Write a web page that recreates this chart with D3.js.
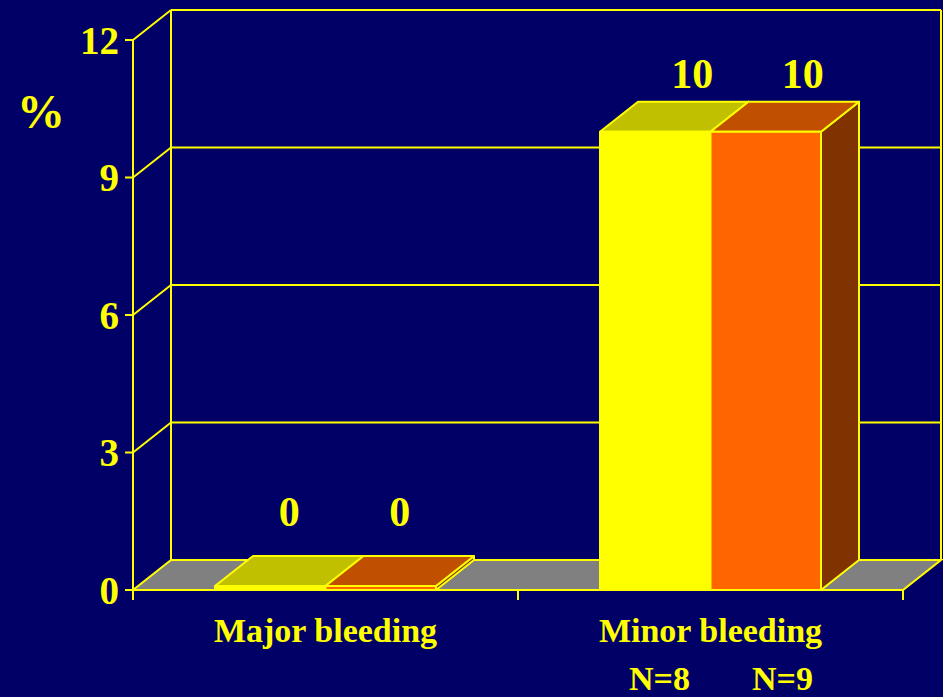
<!DOCTYPE html>
<html>
<head>
<meta charset="utf-8">
<script src="https://cdn.jsdelivr.net/npm/d3@7"></script>
<style>
  html, body { margin: 0; padding: 0; background: #000066; }
  svg { display: block; }
  text { font-family: "Liberation Serif", "Times New Roman", serif; font-weight: bold; fill: #ffff00; }
</style>
</head>
<body>
<svg id="chart" width="943" height="697"></svg>
<script>
// data
const categories = ["Major bleeding", "Minor bleeding"];
const series = ["A", "B"];
const values = [[0, 0], [10, 10]];
const yTicks = [0, 3, 6, 9, 12];
const groupNotes = ["N=8", "N=9"];

const svg = d3.select("#chart"),
    margin = { top: 40, right: 40, bottom: 107, left: 133 },
    width = +svg.attr("width") - margin.left - margin.right,
    height = +svg.attr("height") - margin.top - margin.bottom;

const depth = { x: 38, y: -30 };
const yellow = "#ffff00";
const lw = 2;
const colors = {
    A: { front: "#ffff00", top: "#c0c000", side: "#808000" },
    B: { front: "#ff6600", top: "#c05000", side: "#803300" }
};

const x0 = d3.scaleBand().domain(categories).range([margin.left, margin.left + width]).padding(0);
const x1 = d3.scaleBand().domain(series).range([0, x0.bandwidth()]).paddingInner(0).paddingOuter(0.742);
const y = d3.scaleLinear().domain([0, 12]).range([margin.top + height, margin.top]);

const base = y(0);
const left = x0.range()[0], right = x0.range()[1];

// back wall
const wall = svg.append("g").attr("fill", "none").attr("stroke", yellow).attr("stroke-width", lw);
wall.append("line").attr("x1", left + depth.x).attr("x2", left + depth.x)
    .attr("y1", y(12) + depth.y).attr("y2", base + depth.y);
wall.append("line").attr("x1", right + depth.x).attr("x2", right + depth.x)
    .attr("y1", y(12) + depth.y).attr("y2", base + depth.y);
wall.selectAll(".grid").data(yTicks.filter(d => d > 0)).join("line")
    .attr("x1", left + depth.x).attr("x2", right + depth.x)
    .attr("y1", d => y(d) + depth.y).attr("y2", d => y(d) + depth.y);
// side wall diagonals
wall.selectAll(".diag").data(yTicks.filter(d => d > 0)).join("line")
    .attr("x1", left).attr("y1", d => y(d))
    .attr("x2", left + depth.x).attr("y2", d => y(d) + depth.y);

// floor
svg.append("polygon")
    .attr("points", [[left, base], [right, base], [right + depth.x, base + depth.y], [left + depth.x, base + depth.y]].join(" "))
    .attr("fill", "#808080").attr("stroke", yellow).attr("stroke-width", lw);

// front y axis
svg.append("line").attr("x1", left).attr("x2", left).attr("y1", y(12)).attr("y2", base + 10)
    .attr("stroke", yellow).attr("stroke-width", lw);
svg.selectAll(".ytick").data(yTicks).join("line")
    .attr("x1", left - 8).attr("x2", left).attr("y1", d => y(d)).attr("y2", d => y(d))
    .attr("stroke", yellow).attr("stroke-width", lw);
svg.selectAll(".ylab").data(yTicks).join("text")
    .attr("x", left - 14).attr("y", d => y(d)).attr("dy", "0.35em")
    .attr("text-anchor", "end").attr("font-size", 39)
    .text(d => d);
svg.append("text").attr("x", 41).attr("y", 128).attr("text-anchor", "middle")
    .attr("font-size", 48).text("%");

// category ticks
const catTicks = [left].concat(categories.map(c => x0(c) + x0.bandwidth()));
svg.selectAll(".xtick").data(catTicks).join("line")
    .attr("x1", d => d).attr("x2", d => d).attr("y1", base).attr("y2", base + 10)
    .attr("stroke", yellow).attr("stroke-width", lw);

// bars
const bars = [];
categories.forEach((c, i) => series.forEach((s, j) => bars.push({ cat: c, key: s, value: values[i][j] })));

const minH = 4;
const g = svg.append("g").attr("stroke", yellow).attr("stroke-width", lw).attr("stroke-linejoin", "round");
bars.forEach(d => {
    const bx = x0(d.cat) + x1(d.key), w = x1.bandwidth();
    const top = Math.min(y(d.value), base - minH);
    const col = colors[d.key];
    g.append("polygon")
        .attr("points", [[bx + w, top], [bx + w + depth.x, top + depth.y], [bx + w + depth.x, base + depth.y], [bx + w, base]].join(" "))
        .attr("fill", col.side);
    g.append("polygon")
        .attr("points", [[bx, top], [bx + w, top], [bx + w + depth.x, top + depth.y], [bx + depth.x, top + depth.y]].join(" "))
        .attr("fill", col.top);
    g.append("rect").attr("x", bx).attr("y", top).attr("width", w).attr("height", base - top)
        .attr("fill", col.front);
});

// value labels
svg.selectAll(".vlab").data(bars).join("text")
    .attr("x", d => x0(d.cat) + x1(d.key) + x1.bandwidth() / 2 + (d.value > 0 ? depth.x - 1 : depth.x / 2))
    .attr("y", d => Math.min(y(d.value), base - minH) + depth.y - (d.value > 0 ? 14 : 30))
    .attr("text-anchor", "middle").attr("font-size", 42)
    .text(d => d.value);

// category labels
svg.selectAll(".clab").data(categories).join("text")
    .attr("x", d => x0(d) + x0.bandwidth() / 2).attr("y", base + 52)
    .attr("text-anchor", "middle").attr("font-size", 34)
    .text(d => d);

// group sizes under the second category
const nScale = d3.scalePoint().domain(groupNotes)
    .range([x0(categories[1]) + x0.bandwidth() / 2 - 51, x0(categories[1]) + x0.bandwidth() / 2 + 72]);
svg.selectAll(".nlab").data(groupNotes).join("text")
    .attr("x", d => nScale(d)).attr("y", base + 100)
    .attr("text-anchor", "middle").attr("font-size", 34)
    .text(d => d);
</script>
</body>
</html>
